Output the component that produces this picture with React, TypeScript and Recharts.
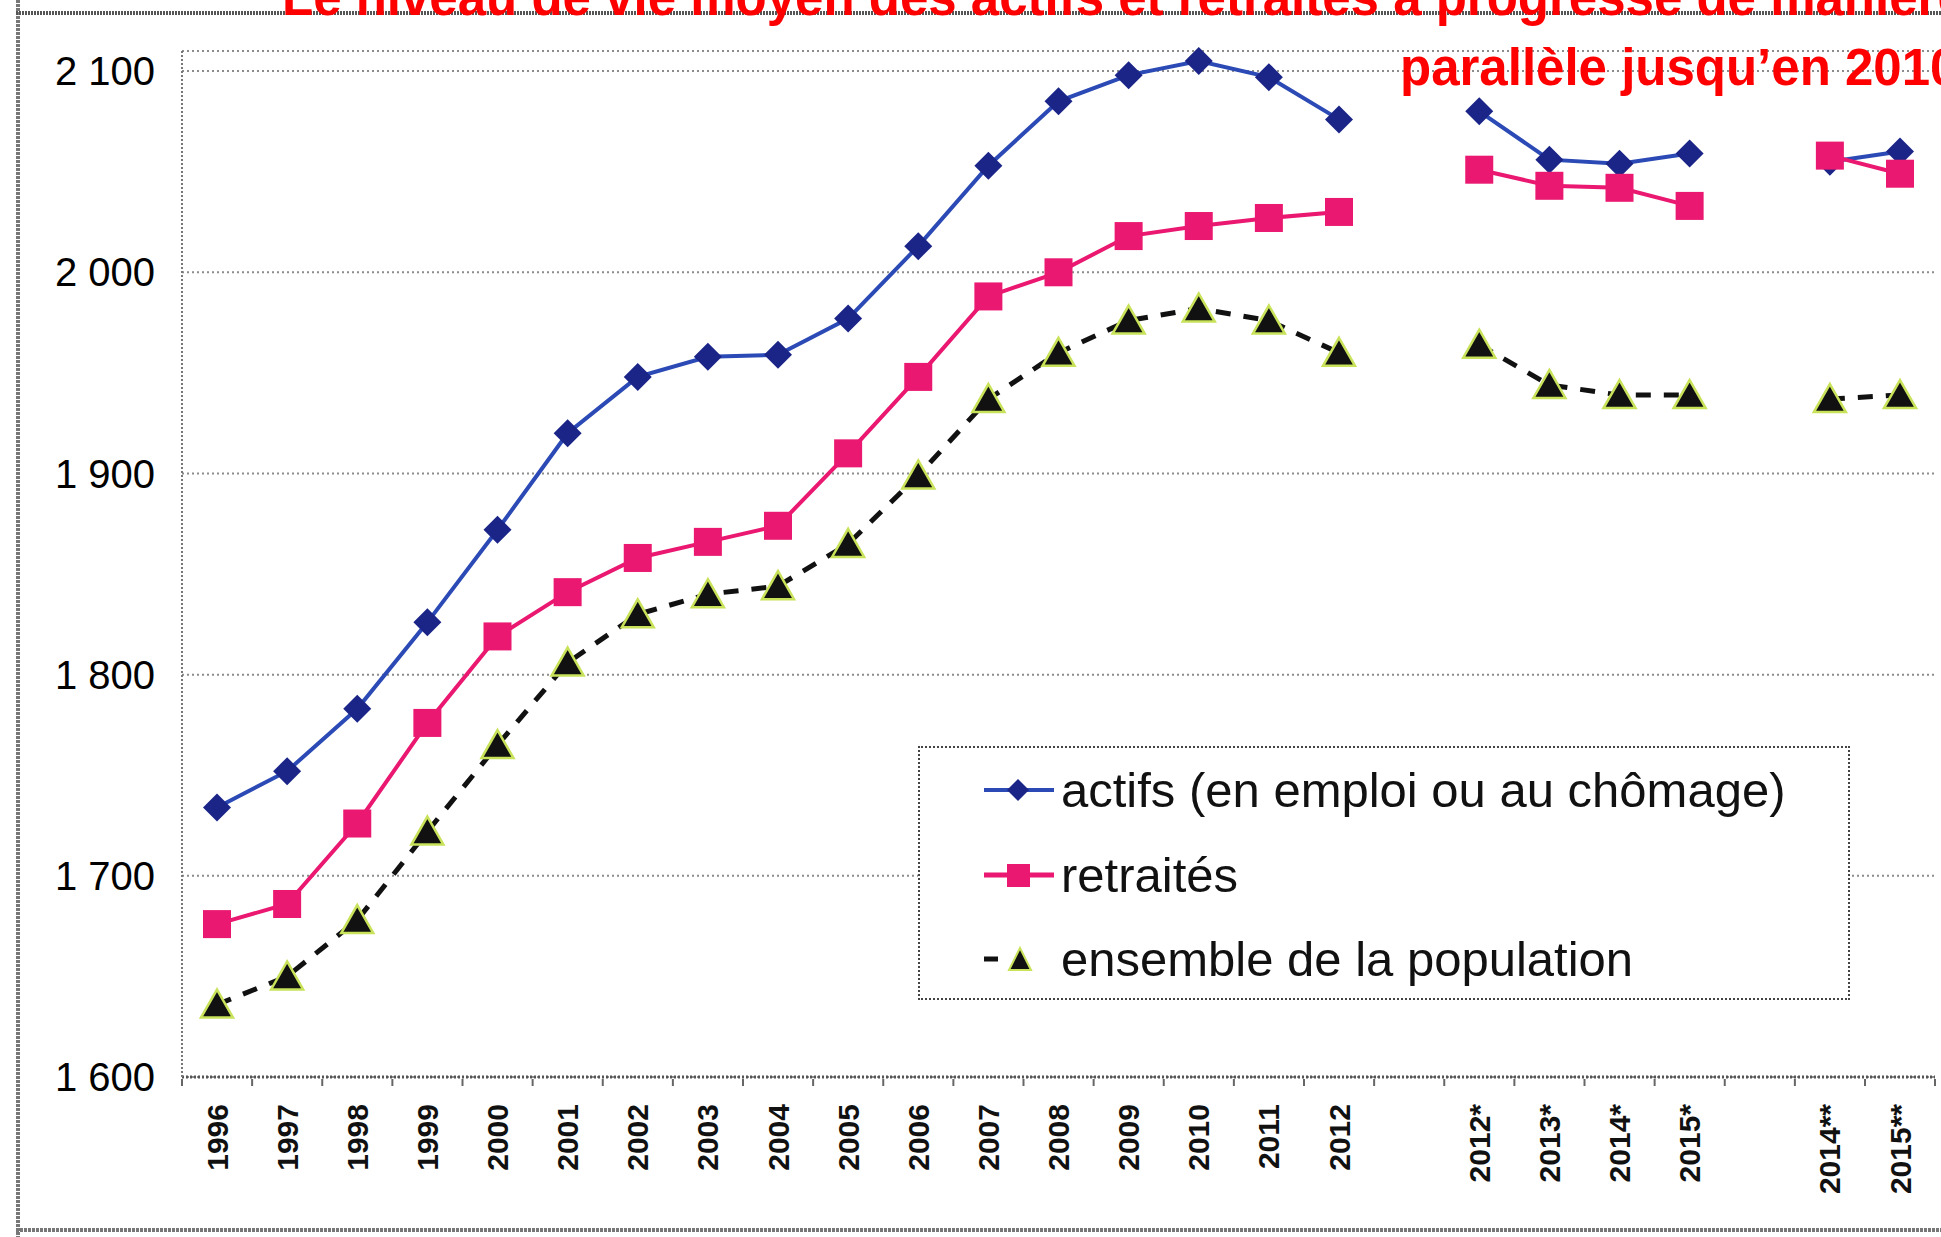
import { LineChart, Line, XAxis, YAxis, CartesianGrid, Legend } from 'recharts';

// années (les cases vides séparent les séries "*" et "**")
const years = [
  '1996', '1997', '1998', '1999', '2000', '2001', '2002', '2003', '2004',
  '2005', '2006', '2007', '2008', '2009', '2010', '2011', '2012', '',
  '2012*', '2013*', '2014*', '2015*', '', '2014**', '2015**',
];

const actifs = [
  1734, 1752, 1783, 1826, 1872, 1920, 1948, 1958, 1959, 1977, 2013, 2053,
  2085, 2098, 2105, 2097, 2076, null, 2080, 2056, 2054, 2059, null, 2055, 2060,
];

const retraites = [
  1676, 1686, 1726, 1776, 1819, 1841, 1858, 1866, 1874, 1910, 1948, 1988,
  2000, 2018, 2023, 2027, 2030, null, 2051, 2043, 2042, 2033, null, 2058, 2049,
];

const ensemble = [
  1636, 1650, 1678, 1722, 1765, 1806, 1830, 1840, 1844, 1865, 1899, 1937,
  1960, 1976, 1982, 1976, 1960, null, 1964, 1944, 1939, 1939, null, 1937, 1939,
];

const yTicks = [1600, 1700, 1800, 1900, 2000, 2100];

const seriesKeys = ['actifs', 'retraites', 'ensemble'];
const seriesNames: any = {
  actifs: 'actifs (en emploi ou au chômage)',
  retraites: 'retraités',
  ensemble: 'ensemble de la population',
};

const titleLine1 = 'Le niveau de vie moyen des actifs et retraités a progressé de manière';
const titleLine2 = 'parallèle jusqu’en 2010';

const data = years.map((year, i) => ({
  year,
  actifs: actifs[i],
  retraites: retraites[i],
  ensemble: ensemble[i],
}));

const FONT = '"Liberation Sans", Arial, Helvetica, sans-serif';
const BLUE_LINE = '#2b4ab5';
const BLUE_DOT = '#1b2588';
const PINK = '#ea1870';
const BLACK = '#111111';
const LIME = '#c8e25a';
const HALF_STEP = 35;

const formatY = (v: number) =>
  `${Math.floor(v / 1000)} ${String(v % 1000).padStart(3, '0')}`;

const diamond = (props: any) => {
  const { cx, cy, index } = props;
  if (cx == null || cy == null) return <g key={`d-${index}`} />;
  const r = 14;
  return (
    <polygon
      key={`d-${index}`}
      points={`${cx},${cy - r} ${cx + r},${cy} ${cx},${cy + r} ${cx - r},${cy}`}
      fill={BLUE_DOT}
    />
  );
};

const square = (props: any) => {
  const { cx, cy, index } = props;
  if (cx == null || cy == null) return <g key={`s-${index}`} />;
  return <rect key={`s-${index}`} x={cx - 14} y={cy - 14} width={28} height={28} fill={PINK} />;
};

const triangle = (props: any) => {
  const { cx, cy, index } = props;
  if (cx == null || cy == null) return <g key={`t-${index}`} />;
  return (
    <polygon
      key={`t-${index}`}
      points={`${cx},${cy - 15} ${cx + 16},${cy + 13} ${cx - 16},${cy + 13}`}
      fill={BLACK}
      stroke={LIME}
      strokeWidth={2.5}
    />
  );
};

const YearTick = ({ x, y, payload, index }: any) => {
  const ty = y + 25;
  return (
    <g>
      <line x1={x - HALF_STEP} y1={y} x2={x - HALF_STEP} y2={y + 7} stroke='#666' strokeWidth={2} />
      {index === years.length - 1 && (
        <line x1={x + HALF_STEP} y1={y} x2={x + HALF_STEP} y2={y + 7} stroke='#666' strokeWidth={2} />
      )}
      {payload.value !== '' && (
        <text
          x={x}
          y={ty}
          transform={`rotate(-90 ${x} ${ty})`}
          textAnchor='end'
          dominantBaseline='central'
          fontFamily={FONT}
          fontSize={30}
          fontWeight='bold'
          fill='#111'
        >
          {payload.value}
        </text>
      )}
    </g>
  );
};

const LegendIcon = ({ dataKey }: any) => {
  if (dataKey === 'actifs') {
    return (
      <svg width={70} height={40}>
        <line x1={0} y1={20} x2={70} y2={20} stroke={BLUE_LINE} strokeWidth={4} />
        <polygon points='34,9 45,20 34,31 23,20' fill={BLUE_DOT} />
      </svg>
    );
  }
  if (dataKey === 'retraites') {
    return (
      <svg width={70} height={40}>
        <line x1={0} y1={20} x2={70} y2={20} stroke={PINK} strokeWidth={5} />
        <rect x={23} y={9} width={23} height={23} fill={PINK} />
      </svg>
    );
  }
  return (
    <svg width={70} height={40}>
      <line x1={0} y1={20} x2={14} y2={20} stroke={BLACK} strokeWidth={5} />
      <polygon points='36,9 47,31 25,31' fill={BLACK} stroke={LIME} strokeWidth={2} />
    </svg>
  );
};

const LegendBox = ({ payload }: any) => {
  const items = [...(payload || [])].sort(
    (a: any, b: any) => seriesKeys.indexOf(a.dataKey) - seriesKeys.indexOf(b.dataKey)
  );
  return (
    <div
      style={{
        width: 932,
        height: 254,
        boxSizing: 'border-box',
        border: '2px dotted #444',
        background: '#fff',
        fontFamily: FONT,
        fontSize: 49,
        color: '#111',
      }}
    >
      {items.map((entry: any) => (
        <div
          key={entry.dataKey}
          style={{ display: 'flex', alignItems: 'center', height: 84.5, whiteSpace: 'nowrap' }}
        >
          <div style={{ marginLeft: 64, marginRight: 7, display: 'flex' }}>
            <LegendIcon dataKey={entry.dataKey} />
          </div>
          <span>{entry.value}</span>
        </div>
      ))}
    </div>
  );
};

export default function App() {
  return (
    <div
      style={{
        position: 'absolute',
        left: 0,
        top: 0,
        width: 1941,
        height: 1237,
        overflow: 'hidden',
        background: '#fff',
        fontFamily: FONT,
      }}
    >
      <LineChart
        width={1941}
        height={1237}
        data={data}
        margin={{ top: 51, right: 6, bottom: 0, left: 0 }}
      >
        <CartesianGrid
          horizontal
          vertical={false}
          stroke='#8c8c8c'
          strokeWidth={2}
          strokeDasharray='2 3'
        />
        <XAxis
          dataKey='year'
          interval={0}
          height={160}
          padding={{ left: HALF_STEP, right: HALF_STEP }}
          tickLine={false}
          tickSize={0}
          tick={YearTick}
          axisLine={{ stroke: '#555', strokeWidth: 3, strokeDasharray: '2 2' }}
        />
        <YAxis
          width={182}
          domain={[1600, 2110]}
          ticks={yTicks}
          tickFormatter={formatY}
          tickLine={false}
          tickSize={0}
          tickMargin={27}
          tick={{ fontSize: 40, fill: '#000', fontFamily: FONT }}
          axisLine={{ stroke: '#777', strokeWidth: 2, strokeDasharray: '2 2' }}
        />
        <Legend
          layout='horizontal'
          verticalAlign='middle'
          align='center'
          content={LegendBox}
          wrapperStyle={{ left: 918, top: 746, width: 932, height: 254 }}
        />
        <Line
          dataKey='actifs'
          name={seriesNames.actifs}
          stroke={BLUE_LINE}
          strokeWidth={4}
          dot={diamond}
          activeDot={false}
          isAnimationActive={false}
        />
        <Line
          dataKey='retraites'
          name={seriesNames.retraites}
          stroke={PINK}
          strokeWidth={4}
          dot={square}
          activeDot={false}
          isAnimationActive={false}
        />
        <Line
          dataKey='ensemble'
          name={seriesNames.ensemble}
          stroke={BLACK}
          strokeWidth={5}
          strokeDasharray='15 13'
          dot={triangle}
          activeDot={false}
          isAnimationActive={false}
        />
      </LineChart>
      <svg
        width={1941}
        height={1237}
        style={{ position: 'absolute', left: 0, top: 0, pointerEvents: 'none' }}
      >
        <line x1={18} y1={0} x2={18} y2={1237} stroke='#777' strokeWidth={4} strokeDasharray='3 1' />
        <line x1={16} y1={13} x2={1941} y2={13} stroke='#555' strokeWidth={4} strokeDasharray='2 1' />
        <line x1={16} y1={1230} x2={1941} y2={1230} stroke='#777' strokeWidth={4} strokeDasharray='3 1' />
        <text x={282} y={15} fill='#ff0000' fontFamily={FONT} fontWeight='bold' fontSize={51}>
          {titleLine1}
        </text>
        <text x={1400} y={85} fill='#ff0000' fontFamily={FONT} fontWeight='bold' fontSize={51}>
          {titleLine2}
        </text>
      </svg>
    </div>
  );
}
